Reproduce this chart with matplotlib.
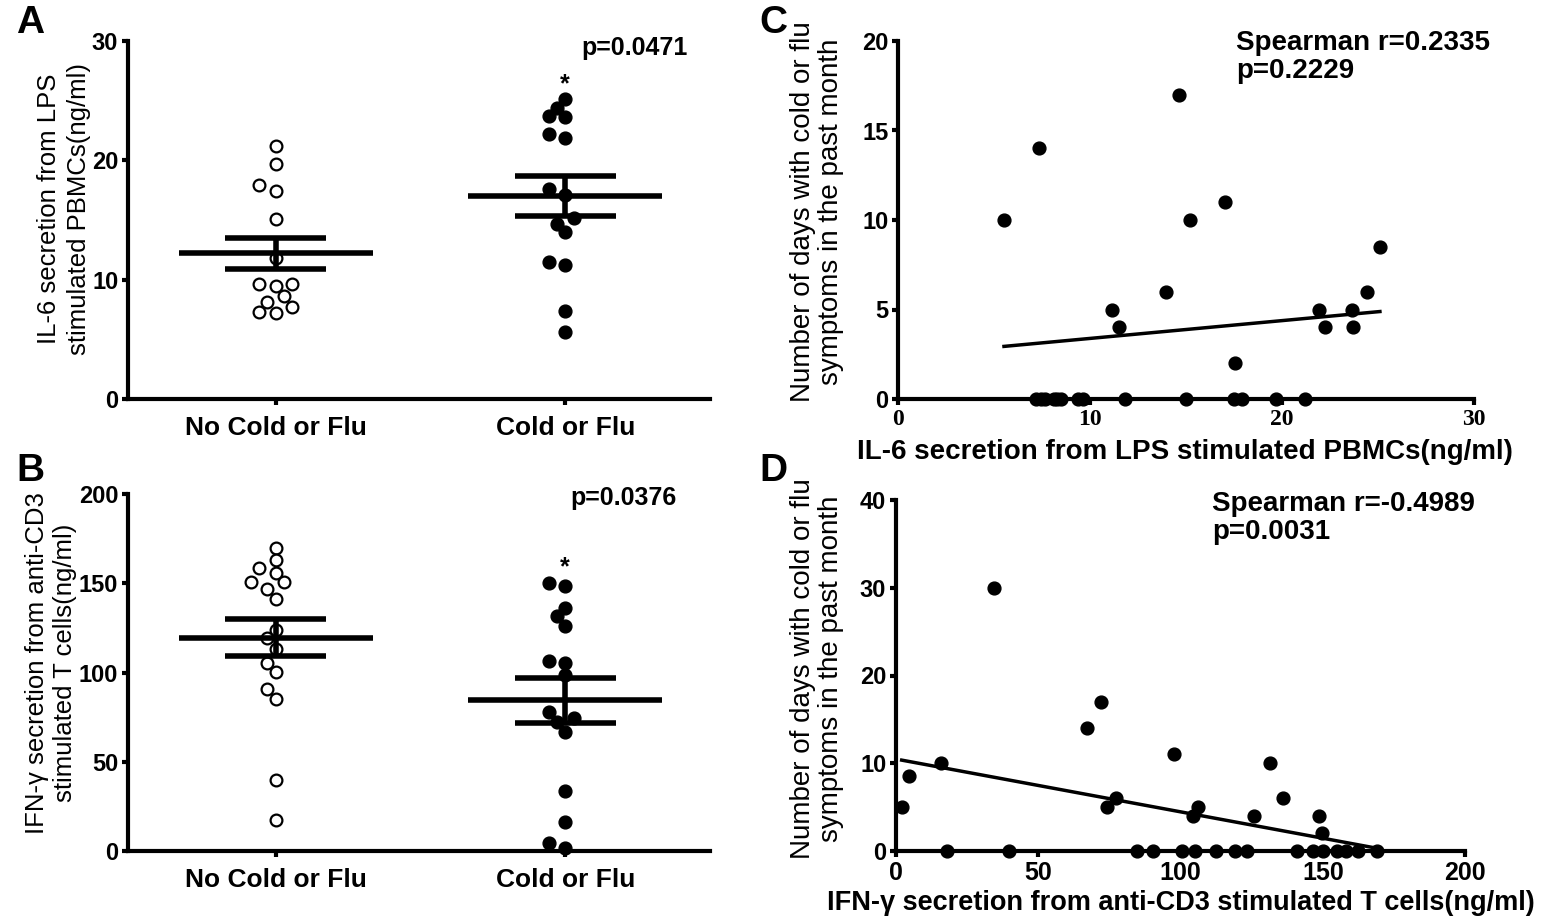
import numpy as np
import matplotlib.pyplot as plt

plt.rcParams['font.family'] = ['Liberation Sans', 'DejaVu Sans']

# panel A / B groups
groups = ['No Cold or Flu', 'Cold or Flu']
il6_no = [21.2, 19.7, 17.9, 17.4, 15.1, 11.8, 9.6, 9.5, 9.6, 8.6, 8.1, 7.7, 7.2, 7.3]
il6_flu = [25.1, 24.4, 23.6, 23.7, 22.2, 21.9, 17.6, 17.1, 14.7, 15.2, 14.0, 11.2, 11.5, 7.4, 5.6]
ifn_no = [169.6, 163.0, 158.4, 155.9, 150.5, 150.9, 146.8, 141.2, 123.8, 119.1,
          113.2, 105.5, 100.5, 90.6, 85.0, 39.8, 17.4]
ifn_flu = [148.6, 150.3, 136.3, 131.7, 126.1, 105.2, 106.4, 98.6, 77.7, 72.1,
           74.5, 66.8, 33.8, 16.1, 1.5, 4.7]

# panel C: IL-6 vs days
il6_x = [14.65, 7.34, 5.52, 15.21, 17.03, 25.1, 13.96, 11.16, 11.51, 21.93, 23.63,
         24.41, 22.24, 23.72, 17.57,
         7.2, 7.45, 7.66, 8.1, 8.3, 8.5, 9.4, 9.65, 11.8, 15.0, 17.5, 17.9, 19.7, 21.2]
days_c = [17, 14, 10, 10, 11, 8.5, 6, 5, 4, 5, 5, 6, 4, 4, 2] + [0] * 14

# panel D: IFN-g vs days
ifn_x = [34.4, 71.9, 67.2, 97.8, 131.4, 15.7, 4.7, 2.0, 77.5, 74.2, 106.2, 104.5,
         135.9, 125.9, 148.6, 149.9,
         17.8, 39.8, 84.6, 90.4, 100.4, 105.1, 112.4, 119.1, 123.2, 140.8, 146.4,
         150.2, 154.9, 158.1, 162.4, 169.1]
days_d = [30, 17, 14, 11, 10, 10, 8.5, 5, 6, 5, 5, 4, 6, 4, 4, 2] + [0] * 16

W, H = 1541, 919
fig = plt.figure(figsize=(W / 100, H / 100), dpi=100)


def rect(x0, y0, x1, y1):
    # pixel box -> figure fraction
    return [x0 / W, 1 - y1 / H, (x1 - x0) / W, (y1 - y0) / H]


def style(ax):
    for s in ['top', 'right']:
        ax.spines[s].set_visible(False)
    for s in ['left', 'bottom']:
        ax.spines[s].set_linewidth(3)
    ax.tick_params(width=3, length=4, labelsize=17, direction='out', pad=3)
    for lbl in ax.get_xticklabels() + ax.get_yticklabels():
        lbl.set_fontweight('bold')


def swarm(ax, xc, vals, d=11.5):
    vals = np.asarray(vals, float)
    pts = ax.transData.transform(np.column_stack([np.full(len(vals), xc), vals]))
    x0, ys = pts[0, 0], pts[:, 1]
    placed, xs = [], np.zeros(len(vals))
    for i in np.argsort(vals):
        for k in [0, -1, 1, -2, 2, -3, 3, -4, 4, -5, 5]:
            px = x0 + k * d * 0.72
            if all(np.hypot(px - qx, ys[i] - qy) >= d for qx, qy in placed):
                break
        placed.append((px, ys[i]))
        xs[i] = px
    return ax.transData.inverted().transform(np.column_stack([xs, ys]))[:, 0]


def dotplot(ax, data, ymax, yticks, ptxt, pxy, star_y):
    ax.set_xlim(-0.51, 1.5)
    ax.set_ylim(0, ymax)
    ax.set_yticks(yticks)
    ax.set_xticks([0, 1])
    ax.set_xticklabels(groups)
    style(ax)
    for lbl in ax.get_xticklabels():
        lbl.set_fontsize(19)
    ax.tick_params(axis='x', pad=8)
    for i, v in enumerate(data):
        xs = swarm(ax, i, v)
        if i == 0:
            ax.scatter(xs, v, s=72, facecolors='white', edgecolors='black',
                       linewidths=1.6, zorder=3, clip_on=False)
        else:
            ax.scatter(xs, v, s=85, color='black', zorder=3, clip_on=False)
        m = np.mean(v)
        se = np.std(v, ddof=1) / np.sqrt(len(v))
        ax.hlines(m, i - 0.335, i + 0.335, color='black', lw=4, zorder=4)
        ax.hlines([m - se, m + se], i - 0.175, i + 0.175, color='black', lw=4, zorder=4)
        ax.vlines(i, m - se, m + se, color='black', lw=4, zorder=4)
    ax.text(pxy[0], pxy[1], ptxt, ha='center', va='center', fontsize=18, fontweight='bold')
    ax.text(1, star_y, '*', ha='center', va='center', fontsize=18, fontweight='bold')


def corrplot(ax, x, y, xlim, xticks, ylim, yticks, txt, txy):
    ax.set_xlim(*xlim)
    ax.set_ylim(*ylim)
    ax.set_xticks(xticks)
    ax.set_yticks(yticks)
    style(ax)
    ax.scatter(x, y, s=85, color='black', zorder=3, clip_on=False)
    coef = np.polyfit(x, y, 1)
    xx = np.array([min(x), max(x)])
    ax.plot(xx, np.polyval(coef, xx), color='black', lw=2.5, zorder=4)
    ax.text(txy[0], txy[1], txt, ha='left', va='top', fontsize=20, fontweight='bold',
            linespacing=1.1)


axA = fig.add_axes(rect(128, 41, 710, 399))
dotplot(axA, [il6_no, il6_flu], 30, [0, 10, 20, 30], 'p=0.0471', (1.24, 29.4), 26.4)

axB = fig.add_axes(rect(128, 494, 710, 851))
dotplot(axB, [ifn_no, ifn_flu], 200, [0, 50, 100, 150, 200], 'p=0.0376', (1.2, 197.8), 159)

axC = fig.add_axes(rect(898, 41, 1474, 399))
corrplot(axC, il6_x, days_c, (0, 30), [0, 10, 20, 30], (0, 20), [0, 5, 10, 15, 20],
         'Spearman r=0.2335\np=0.2229', (17.6, 20.6))
for lbl in axC.get_xticklabels():
    lbl.set_family('Liberation Serif')
    lbl.set_fontsize(17)

axD = fig.add_axes(rect(896, 500, 1465, 851))
corrplot(axD, ifn_x, days_d, (0, 200), [0, 50, 100, 150, 200], (0, 40), [0, 10, 20, 30, 40],
         'Spearman r=-0.4989\np=0.0031', (111, 41.0))
for lbl in axD.get_xticklabels():
    lbl.set_fontsize(18)

# x labels of the correlation panels
fig.text(1185 / W, 1 - 452 / H, 'IL-6 secretion from LPS stimulated PBMCs(ng/ml)',
         ha='center', va='center', fontsize=20, fontweight='bold')
fig.text(1181 / W, 1 - 903 / H, 'IFN-γ secretion from anti-CD3 stimulated T cells(ng/ml)',
         ha='center', va='center', fontsize=19.5, fontweight='bold')

# panel letters
for letter, (px, py) in zip('ABCD', [(30, 23), (30, 471), (773, 23), (773, 471)]):
    fig.text(px / W, 1 - py / H, letter, ha='center', va='center', fontsize=28, fontweight='bold')

# y labels
ylabels = [('IL-6 secretion from LPS\nstimulated PBMCs(ng/ml)', 64, 209, 18.5, 1.3),
           ('IFN-γ secretion from anti-CD3\nstimulated T cells(ng/ml)', 51, 663, 18.5, 1.2),
           ('Number of days with cold or flu\nsymptoms in the past month', 817, 212, 20, 1.15),
           ('Number of days with cold or flu\nsymptoms in the past month', 817, 669, 20, 1.15)]
for txt, px, py, fs, ls in ylabels:
    fig.text(px / W, 1 - py / H, txt, rotation=90, ha='center', va='center',
             multialignment='center', fontsize=fs, linespacing=ls)

fig.savefig('out.png', dpi=100)
